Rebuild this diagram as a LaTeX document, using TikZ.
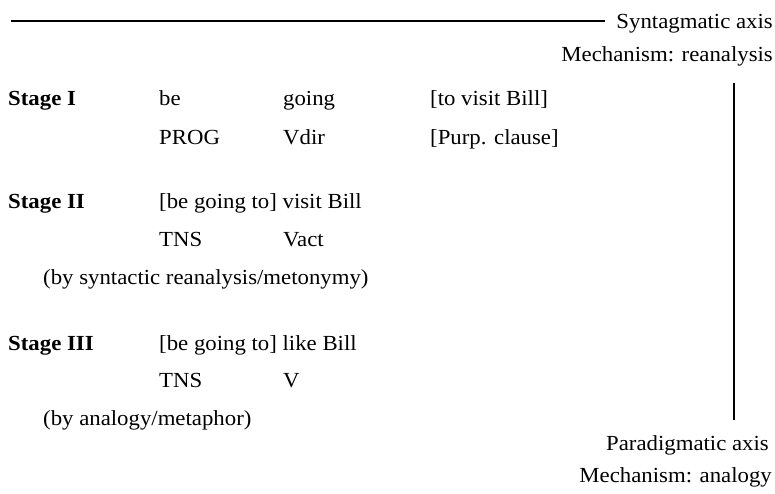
\documentclass[tikz,border=0pt]{standalone}
\usepackage{fontspec}
\setmainfont{Liberation Serif}[FakeStretch=1.06]
\begin{document}
\begin{tikzpicture}[x=1pt,y=-1pt,
  txt/.style={inner sep=0pt,anchor=base west,font=\fontsize{21.5}{26}\selectfont},
  rtxt/.style={inner sep=0pt,anchor=base east,font=\fontsize{21.5}{26}\selectfont},
  stg/.style={txt,font=\fontsize{21.5}{26}\selectfont\bfseries},
  axis/.style={line width=2.6pt,black}]
\useasboundingbox (0,0) rectangle (775,493);
% axes
\coordinate (hs) at (11,21);
\coordinate (he) at (605,21);
\coordinate (vs) at (734,83);
\coordinate (ve) at (734,420);
\draw[axis] (hs) -- (he);
\draw[axis,line width=2.8pt] (vs) -- (ve);
\node[rtxt] (syn) at (773,28) {Syntagmatic axis};
\node[rtxt] (mre) at (773,61) {Mechanism: reanalysis};
\node[rtxt] (par) at (769,450) {Paradigmatic axis};
\node[rtxt] (man) at (772,482) {Mechanism: analogy};
% Stage I
\node[stg] (s1) at (8,105) {Stage I};
\node[txt] (s1a) at (159,105) {be};
\node[txt] (s1b) at (283,105) {going};
\node[txt] (s1c) at (430,105) {[to visit Bill]};
\node[txt] (s1d) at (159,144) {PROG};
\node[txt] (s1e) at (283,144) {Vdir};
\node[txt] (s1f) at (430,144) {[Purp. clause]};
% Stage II
\node[stg] (s2) at (8,208) {Stage II};
\node[txt] (s2a) at (159,208) {[be going to] visit Bill};
\node[txt] (s2b) at (159,246) {TNS};
\node[txt] (s2c) at (283,246) {Vact};
\node[txt] (s2d) at (43,284) {(by syntactic reanalysis/metonymy)};
% Stage III
\node[stg] (s3) at (8,350) {Stage III};
\node[txt] (s3a) at (159,350) {[be going to] like Bill};
\node[txt] (s3b) at (159,387) {TNS};
\node[txt] (s3c) at (283,387) {V};
\node[txt] (s3d) at (43,425) {(by analogy/metaphor)};
\end{tikzpicture}
\end{document}
